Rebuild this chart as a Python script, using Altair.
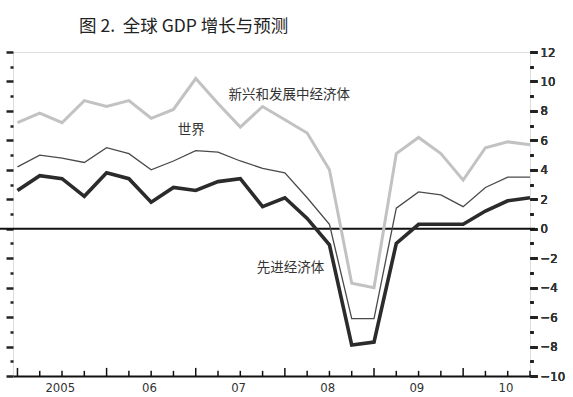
import json

import altair as alt
import pandas as pd

# Quarterly GDP growth, 2005Q1 .. 2010Q4 (annualised, %)
quarters = list(range(24))
emerging = [7.2, 7.85, 7.2, 8.7, 8.3, 8.7, 7.5, 8.1, 10.2, 8.5, 6.9, 8.3,
            7.4, 6.5, 4.0, -3.7, -4.0, 5.1, 6.2, 5.1, 3.3, 5.5, 5.9, 5.7]
world = [4.2, 5.0, 4.8, 4.5, 5.5, 5.1, 4.0, 4.6, 5.3, 5.2, 4.6, 4.1,
         3.8, 2.1, 0.3, -6.1, -6.1, 1.4, 2.5, 2.3, 1.5, 2.8, 3.5, 3.5]
advanced = [2.6, 3.6, 3.4, 2.2, 3.8, 3.4, 1.8, 2.8, 2.6, 3.2, 3.4, 1.5,
            2.1, 0.7, -1.1, -7.9, -7.7, -1.0, 0.3, 0.3, 0.3, 1.2, 1.9, 2.1]

series_names = ["新兴和发展中经济体", "世界", "先进经济体"]
label_q = [12.2, 7.8, 12.25]
label_v = [9.1, 6.7, -2.7]

year_labels = ["2005", "06", "07", "08", "09", "10"]
year_label_pos = [4 * k + 1.9 for k in range(len(year_labels))]
y_ticks = list(range(-10, 13))

CJK = "Noto Sans CJK SC"
NUM = "Liberation Sans Narrow, DejaVu Sans Condensed, Roboto, sans-serif"

W, H = 517, 324

df = pd.DataFrame({
    "q": quarters * 3,
    "value": emerging + world + advanced,
    "series": sum([[n] * len(quarters) for n in series_names], []),
})
ticks_df = pd.DataFrame({"q": quarters})
labels_df = pd.DataFrame({"name": series_names, "q": label_q, "v": label_v})

x_scale = alt.Scale(domain=[-0.2, 23.0], nice=False, zero=False)
y_scale = alt.Scale(domain=[-10, 12], nice=False, zero=False)

label_expr = f"{json.dumps(year_labels)}[round((datum.value - 1.9) / 4)]"
x_axis = alt.Axis(
    orient="bottom", values=year_label_pos, labelExpr=label_expr,
    ticks=False, grid=False, title=None,
    domain=True, domainColor="#111111", domainWidth=2,
    labelFont=NUM, labelFontSize=13, labelColor="#333333", labelPadding=5,
)

tick_len = {"condition": {"test": "datum.value % 2 === 0", "value": 7}, "value": 3}

y_right = alt.Axis(
    orient="right", values=y_ticks, grid=False, title=None, domain=False,
    labelExpr="datum.value % 2 === 0 ? datum.label : ''",
    tickSize=tick_len, tickWidth=2.5, tickColor="#222222",
    labelFont=NUM, labelFontSize=13, labelColor="#333333", labelPadding=3,
)
y_left = alt.Axis(
    orient="left", values=y_ticks, grid=False, title=None, domain=False,
    labels=False, tickSize=tick_len, tickWidth=2.5, tickColor="#222222",
)

base = alt.Chart(df)
X = alt.X("q:Q", scale=x_scale, axis=x_axis)

zero_line = alt.Chart(pd.DataFrame({"v": [0]})).mark_rule(
    color="#111111", strokeWidth=2
).encode(
    y=alt.Y("v:Q", scale=y_scale, axis=y_left),
    x=alt.value(-13), x2=alt.value(W + 5),
)

line_emerging = base.transform_filter(
    alt.datum.series == series_names[0]
).mark_line(color="#c2c2c2", strokeWidth=3).encode(
    x=X, y=alt.Y("value:Q", scale=y_scale, axis=y_right)
)
line_world = base.transform_filter(
    alt.datum.series == series_names[1]
).mark_line(color="#4a4a4a", strokeWidth=1.3).encode(
    x=X, y=alt.Y("value:Q", scale=y_scale, axis=y_right)
)
line_adv = base.transform_filter(
    alt.datum.series == series_names[2]
).mark_line(color="#2b2b2b", strokeWidth=3.6).encode(
    x=X, y=alt.Y("value:Q", scale=y_scale, axis=y_right)
)

# quarter ticks standing up from the baseline, taller at each new year
x_ticks = alt.Chart(ticks_df).transform_calculate(
    bottom="-10",
    top="datum.q % 4 === 0 ? -9.45 : -9.65",
).mark_rule(color="#111111", strokeWidth=1.5).encode(
    x=alt.X("q:Q", scale=x_scale, axis=x_axis),
    y=alt.Y("bottom:Q", scale=y_scale, axis=y_right),
    y2="top:Q",
)

labels = alt.Chart(labels_df).mark_text(
    font=CJK, fontSize=13.5, color="#333333", align="center", baseline="middle"
).encode(
    x=alt.X("q:Q", scale=x_scale, axis=x_axis),
    y=alt.Y("v:Q", scale=y_scale, axis=y_right),
    text="name:N",
)

chart = alt.layer(
    zero_line, line_emerging, line_world, line_adv, x_ticks, labels
).resolve_axis(y="independent").properties(
    width=W, height=H,
    autosize=alt.AutoSizeParams(type="none"),
    padding={"left": 13, "top": 52, "right": 43, "bottom": 21},
    title=alt.TitleParams(
        "图 2.\u00a0 全球 GDP 增长与预测", anchor="start", dx=80, offset=11,
        font=CJK, fontSize=17.5, fontWeight="normal", color="#222222",
    ),
).configure_view(stroke=None).configure(background="white")

chart.save("out.html", embed_options={"renderer": "svg", "actions": False})
